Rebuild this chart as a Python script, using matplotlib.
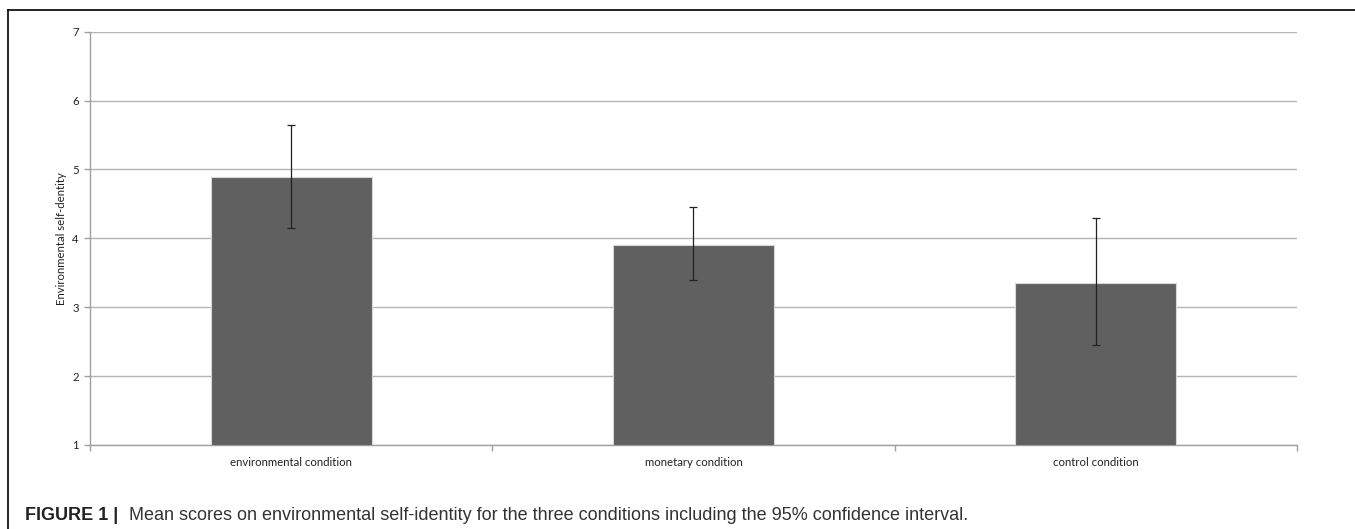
import matplotlib.pyplot as plt
from matplotlib.lines import Line2D
import numpy as np

conditions = ['environmental condition', 'monetary condition', 'control condition']
means = [4.89, 3.91, 3.35]
ci_low = [4.15, 3.39, 2.45]
ci_high = [5.64, 4.46, 4.29]

yerr = np.array([np.subtract(means, ci_low), np.subtract(ci_high, means)])

fig = plt.figure(figsize=(13.55, 5.29), dpi=100)
ax = fig.add_axes([0.0664, 0.1588, 0.8908, 0.7813])

x = np.arange(len(conditions))
ax.bar(x, means, width=0.4, color='#606060', edgecolor='#d8d8d8', linewidth=0.8, zorder=3)
ax.errorbar(x, means, yerr=yerr, fmt='none', ecolor='#222222', elinewidth=0.9,
            capsize=3, capthick=0.9, zorder=4)

ax.set_xlim(-0.5, 2.5)
ax.set_ylim(1, 7)
ax.set_yticks(range(1, 8))
ax.yaxis.grid(True, color='#b4b4b4', linewidth=1.0, zorder=0)
ax.set_axisbelow(True)

lab_size = 8.2
ax.set_xticks(x)
ax.set_xticklabels(conditions, fontfamily='Lato', fontsize=lab_size, color='#222222')
ax.tick_params(axis='x', length=0, pad=9)
# category boundary ticks
ax.set_xticks([-0.5, 0.5, 1.5, 2.5], minor=True)
ax.tick_params(axis='x', which='minor', length=4, color='#a0a0a0', width=1)
ax.tick_params(axis='y', length=4, color='#a0a0a0', width=1, pad=4, labelsize=lab_size,
               labelcolor='#222222')
for lab in ax.get_yticklabels():
    lab.set_fontfamily('Lato')

for side in ['top', 'right']:
    ax.spines[side].set_visible(False)
ax.spines['left'].set_color('#a0a0a0')
ax.spines['bottom'].set_color('#a0a0a0')
ax.spines['left'].set_linewidth(1)
ax.spines['bottom'].set_linewidth(1)

ax.set_ylabel('Environmental self-dentity', fontfamily='Lato', fontsize=lab_size,
              color='#222222', labelpad=4)

# outer frame (left and top)
fig.add_artist(Line2D([0.0059, 0.0059], [0, 0.981], color='black', linewidth=1.2))
fig.add_artist(Line2D([0.0059, 1], [0.981, 0.981], color='black', linewidth=1.2))

fig.text(0.0185, 0.017, 'FIGURE 1 |', fontfamily='Liberation Sans', fontweight='bold',
         fontsize=13, color='#222222', va='baseline')
fig.text(0.0955, 0.017, 'Mean scores on environmental self-identity for the three conditions '
         'including the 95% confidence interval.', fontfamily='Liberation Sans',
         fontsize=13, color='#333333', va='baseline')

fig.savefig('out.png', dpi=100)
